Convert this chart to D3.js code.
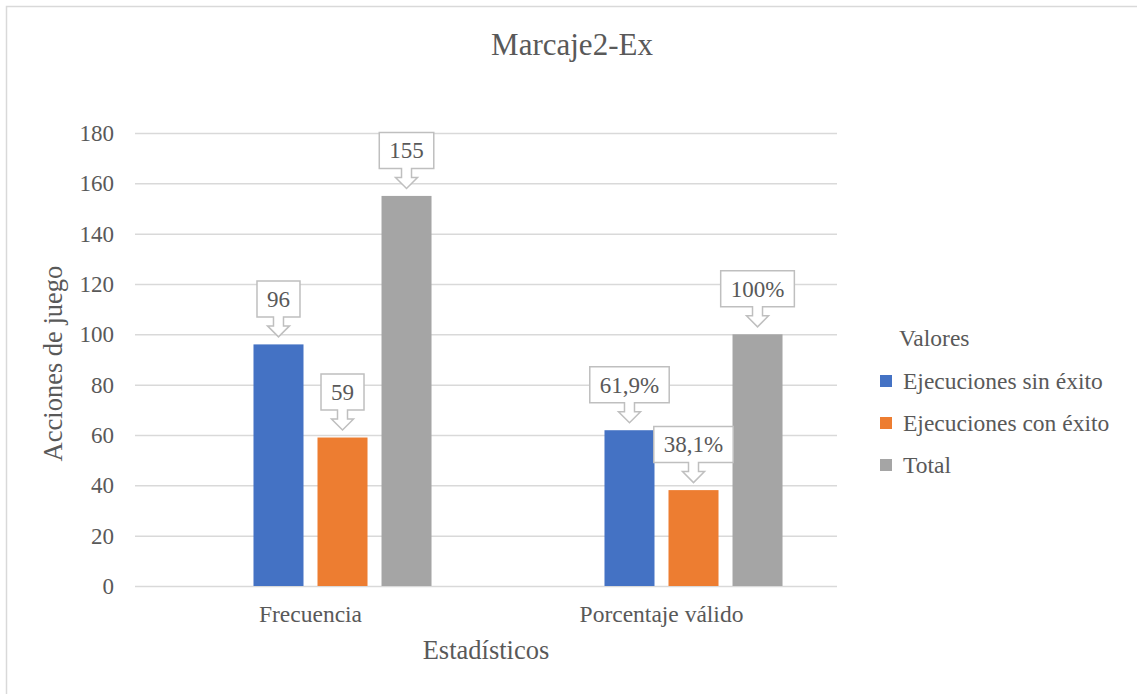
<!DOCTYPE html>
<html>
<head>
<meta charset="utf-8">
<script src="https://cdn.jsdelivr.net/npm/d3@7"></script>
<style>
  html, body { margin: 0; padding: 0; background: #fff; }
  svg text { font-family: "Liberation Serif", "Times New Roman", serif; fill: #595959; }
</style>
</head>
<body>
<svg id="chart" width="1137" height="694"></svg>
<script>
const chartTitle = "Marcaje2-Ex";
const categories = ["Frecuencia", "Porcentaje válido"];
const seriesNames = ["Ejecuciones sin éxito", "Ejecuciones con éxito", "Total"];
const seriesColors = ["#4472c4", "#ed7d31", "#a5a5a5"];
const valuesSinExito = [96, 61.9];
const valuesConExito = [59, 38.1];
const valuesTotal = [155, 100];
const labelsSinExito = ["96", "61,9%"];
const labelsConExito = ["59", "38,1%"];
const labelsTotal = ["155", "100%"];
const yTicks = [0, 20, 40, 60, 80, 100, 120, 140, 160, 180];
const yTitle = "Acciones de juego";
const xTitle = "Estadísticos";
const legendTitle = "Valores";
// an empty first series column (as in the source spreadsheet) occupies the first slot
const slots = ["(vacío)", ...seriesNames];

const seriesValues = [valuesSinExito, valuesConExito, valuesTotal];
const seriesLabels = [labelsSinExito, labelsConExito, labelsTotal];

const svg = d3.select("#chart");
const textColor = "#595959";
const gridColor = "#d9d9d9";
const fontFam = '"Liberation Serif", "Times New Roman", serif';

// outer chart border (extends past the crop on right/bottom)
svg.append("rect").attr("x", 6.5).attr("y", 6.5).attr("width", 1150).attr("height", 700)
  .attr("fill", "none").attr("stroke", gridColor).attr("stroke-width", 1.5);

const plot = { left: 135, right: 837, top: 133, bottom: 586 };

const y = d3.scaleLinear().domain([0, 180]).range([plot.bottom, plot.top]);
const x0 = d3.scaleBand().domain(categories).range([plot.left, plot.right]).paddingInner(0).paddingOuter(0);
const x1 = d3.scaleBand().domain(slots).range([0, x0.bandwidth()]).paddingInner(0.21875).paddingOuter(0.851);

// title
svg.append("text").attr("x", 572).attr("y", 55).attr("text-anchor", "middle")
  .style("font-size", "31px").text(chartTitle);

// gridlines + y tick labels
const yAxis = d3.axisLeft(y).tickValues(yTicks).tickSize(-(plot.right - plot.left)).tickPadding(21).tickFormat(d3.format("d"));
const gy = svg.append("g").attr("transform", `translate(${plot.left},0)`).call(yAxis);
gy.select(".domain").remove();
gy.selectAll(".tick line").attr("stroke", gridColor).attr("stroke-width", 1.5);
gy.selectAll(".tick text").attr("fill", textColor).style("font-size", "23px")
  .style("font-family", fontFam).attr("dy", "0.33em");

// x axis labels
const xAxis = d3.axisBottom(x0).tickSize(0).tickPadding(19);
const gx = svg.append("g").attr("transform", `translate(0,${plot.bottom})`).call(xAxis);
gx.select(".domain").remove();
gx.selectAll(".tick text").attr("fill", textColor).style("font-size", "23.5px")
  .style("font-family", fontFam);

// axis titles
svg.append("text").attr("x", 486).attr("y", 659).attr("text-anchor", "middle")
  .style("font-size", "26.5px").text(xTitle);
svg.append("text").attr("transform", `translate(62,${(plot.top + plot.bottom) / 2 + 4}) rotate(-90)`)
  .attr("text-anchor", "middle").style("font-size", "26.5px").text(yTitle);

// bars
const barData = [];
seriesNames.forEach((s, si) => {
  categories.forEach((c, ci) => {
    barData.push({ series: s, cat: c, value: seriesValues[si][ci], label: seriesLabels[si][ci], color: seriesColors[si] });
  });
});

svg.append("g").selectAll("rect").data(barData).join("rect")
  .attr("x", d => x0(d.cat) + x1(d.series))
  .attr("y", d => y(d.value))
  .attr("width", x1.bandwidth())
  .attr("height", d => y(0) - y(d.value))
  .attr("fill", d => d.color);

// callout data labels
const calloutG = svg.append("g");
const boxH = 36, pad = 10, gap = 7.5, headH = 11, shaftH = 9, headW = 22, shaftW = 10;
barData.forEach(d => {
  const cx = x0(d.cat) + x1(d.series) + x1.bandwidth() / 2;
  const tipY = y(d.value) - gap;
  const boxBottom = tipY - headH - shaftH;
  const boxTop = boxBottom - boxH;
  const g = calloutG.append("g");
  const t = g.append("text").attr("x", cx).attr("y", (boxTop + boxBottom) / 2).attr("dy", "0.34em")
    .attr("text-anchor", "middle").style("font-size", "23px").text(d.label);
  const w = t.node().getComputedTextLength() + 2 * pad;
  const l = cx - w / 2, r = cx + w / 2;
  const path = d3.path();
  path.moveTo(l, boxTop);
  path.lineTo(r, boxTop);
  path.lineTo(r, boxBottom);
  path.lineTo(cx + shaftW / 2, boxBottom);
  path.lineTo(cx + shaftW / 2, boxBottom + shaftH);
  path.lineTo(cx + headW / 2, boxBottom + shaftH);
  path.lineTo(cx, tipY);
  path.lineTo(cx - headW / 2, boxBottom + shaftH);
  path.lineTo(cx - shaftW / 2, boxBottom + shaftH);
  path.lineTo(cx - shaftW / 2, boxBottom);
  path.lineTo(l, boxBottom);
  path.closePath();
  g.insert("path", "text").attr("d", path.toString()).attr("fill", "#fff")
    .attr("stroke", "#bfbfbf").attr("stroke-width", 1.5);
});

// legend
const legend = svg.append("g");
legend.append("text").attr("x", 899).attr("y", 338).attr("dy", "0.34em")
  .style("font-size", "23.5px").text(legendTitle);
const legendY = d3.scalePoint().domain(seriesNames).range([381, 465]);
const li = legend.selectAll("g.item").data(seriesNames).join("g").attr("class", "item");
li.append("rect").attr("x", 880).attr("y", d => legendY(d) - 6).attr("width", 12).attr("height", 12)
  .attr("fill", (d, i) => seriesColors[i]);
li.append("text").attr("x", 903).attr("y", d => legendY(d)).attr("dy", "0.34em")
  .style("font-size", "23.5px").text(d => d);
</script>
</body>
</html>
